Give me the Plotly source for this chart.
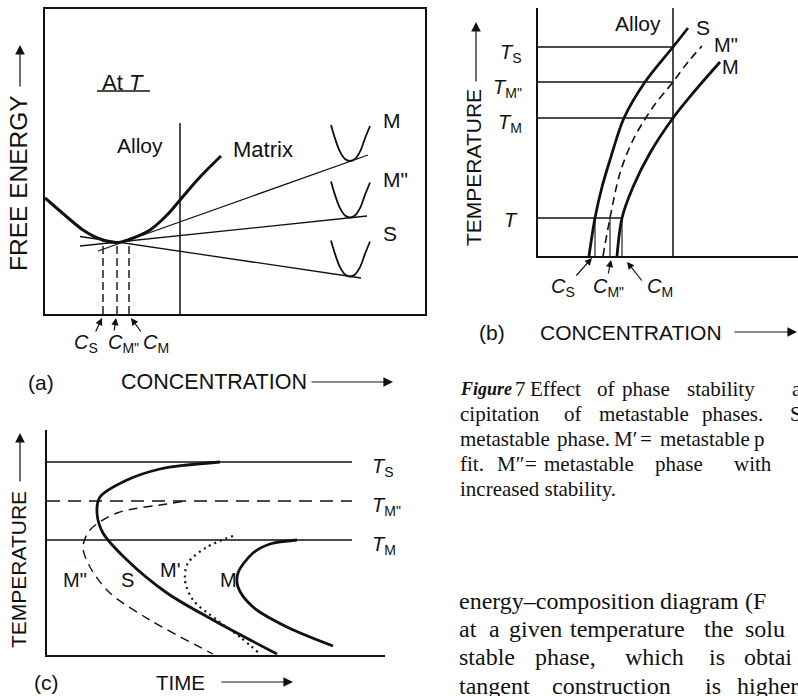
import plotly.graph_objects as go

W, H = 798, 696
INK = "#111111"
SANS = "Liberation Sans"
SERIF = "Liberation Serif"

# ---------------- Panel (a): free energy vs concentration at T ----------------
a_matrix_C = [0.0, 2.2, 3.8, 5.5, 7.2, 8.4, 10.5, 12.2, 13.5, 15.5, 17.6]
a_matrix_G = [11.6, 9.7, 8.4, 7.5, 7.15, 7.45, 8.4, 9.9, 11.4, 13.7, 15.8]
a_tanS_C = [3.5, 31.6]
a_tanS_G = [7.75, 3.6]
a_tanM2_C = [3.5, 32.2]
a_tanM2_G = [6.8, 9.8]
a_tanM_C = [5.3, 32.3]
a_tanM_G = [6.3, 15.9]
a_well_names = ["M", 'M"', "S"]
a_well_min_C = [30.5, 30.5, 30.5]
a_well_min_G = [15.3, 9.65, 3.75]
a_well_dC = [-1.9, -1.5, -1.0, -0.5, 0.0, 0.5, 1.0, 1.5, 2.0]
a_well_dG = [3.6, 2.26, 0.93, 0.2, 0.0, 0.2, 0.93, 2.26, 3.5]
a_alloy_C = 13.5
a_alloy_top_G = 19.1
a_conc_names = ["S", 'M"', "M"]
a_conc_C = [5.8, 7.2, 8.4]
a_conc_G = [7.41, 7.19, 7.4]

# ---------------- Panel (b): solvus temperature vs concentration ----------------
b_S_C = [5.1, 5.7, 6.4, 7.2, 8.6, 10.7, 13.5, 15.0]
b_S_T = [0.0, 3.8, 6.9, 9.6, 13.8, 17.4, 20.9, 22.8]
b_M2_C = [6.5, 7.2, 8.2, 9.5, 11.5, 13.5, 15.0, 16.4]
b_M2_T = [0.0, 3.8, 8.3, 11.6, 14.9, 17.4, 19.4, 21.0]
b_M_C = [7.9, 8.4, 9.5, 11.2, 13.5, 15.5, 18.2]
b_M_T = [0.0, 3.8, 6.9, 10.3, 13.8, 16.3, 19.4]
b_alloy_C = 13.5
b_alloy_top_T = 24.8
b_T_names = ["S", 'M"', "M"]
b_T_levels = [20.9, 17.4, 13.8]
b_T_low = 3.8
b_conc_names = ["S", 'M"', "M"]
b_conc_C = [5.7, 7.2, 8.4]

# ---------------- Panel (c): TTT curves ----------------
c_S_t = [17.3, 14.0, 11.3, 8.0, 5.3, 5.0, 5.6, 8.0, 12.0, 16.6, 23.0]
c_S_T = [19.3, 19.0, 18.6, 17.5, 15.8, 14.2, 12.2, 9.5, 6.2, 3.5, 0.1]
c_M2_t = [13.5, 12.0, 7.0, 4.3, 3.6, 4.3, 6.3, 10.3, 16.6]
c_M2_T = [15.35, 15.1, 14.2, 12.5, 10.8, 8.8, 6.2, 3.5, 0.1]
c_Mp_t = [18.6, 16.0, 14.1, 13.8, 14.6, 17.0, 19.3, 21.3]
c_Mp_T = [11.9, 10.8, 9.2, 7.5, 5.5, 3.5, 1.8, 0.1]
c_M_t = [25.0, 22.3, 20.6, 19.1, 19.1, 20.6, 24.0, 28.6]
c_M_T = [11.5, 11.1, 10.2, 8.2, 6.8, 4.8, 2.8, 0.9]
c_T_names = ["S", 'M"', "M"]
c_T_levels = [19.3, 15.4, 11.5]
c_T_line_end = 30.5

# ---------------- caption / body text ----------------
caption_lines = [
    [(458, "<b><i>Figure</i></b>"), (513, "7"), (528, "Effect"), (595, "of"), (620, "phase"),
     (685, "stability"), (790, "a")],
    [(458, "cipitation"), (562, "of"), (597, "metastable"), (700, "phases."), (788, "S")],
    [(458, "metastable"), (555, "phase."), (612, "M′"), (638, "="), (658, "metastable"), (752, "p")],
    [(458, "fit."), (495, "M″"), (523, "="), (542, "metastable"), (653, "phase"), (732, "with")],
    [(458, "increased stability.")],
]
caption_y = [389, 414, 439, 464, 489]
body_lines = [
    [(457, "energy–composition"), (658, "diagram"), (743, "(F")],
    [(457, "at"), (487, "a"), (507, "given"), (568, "temperature"), (702, "the"), (743, "solu")],
    [(457, "stable"), (533, "phase,"), (623, "which"), (707, "is"), (742, "obtai")],
    [(457, "tangent"), (550, "construction"), (703, "is"), (735, "higher")],
]
body_y = [601, 629, 657, 686]

# panel boxes in pixels (left, top, right, bottom) and data ranges
BOX = {"": (45, 9, 425, 314), "2": (538, 8, 798, 256), "3": (47, 430, 385, 655)}
RNG = {"": (38, 30.5), "2": (26, 24.8), "3": (33.8, 22.5)}


def PX(x):
    return x / W


def PY(y):
    return 1 - y / H


def to_px(ax, u, v):
    l, t, r, b = BOX[ax]
    xr, yr = RNG[ax]
    return l + (r - l) * u / xr, b - (b - t) * v / yr


fig = go.Figure()


def line(x, y, ax, width, dash=None, shape="linear"):
    fig.add_trace(go.Scatter(
        x=x, y=y, xaxis="x" + ax, yaxis="y" + ax, mode="lines",
        line=dict(color=INK, width=width, dash=dash, shape=shape,
                  smoothing=0.9 if shape == "spline" else None),
        hoverinfo="skip", showlegend=False))


# panel (a)
line(a_matrix_C, a_matrix_G, "", 3.0, shape="spline")
line(a_tanS_C, a_tanS_G, "", 1.3)
line(a_tanM2_C, a_tanM2_G, "", 1.3)
line(a_tanM_C, a_tanM_G, "", 1.3)
for cm, gm in zip(a_well_min_C, a_well_min_G):
    line([cm + d for d in a_well_dC], [gm + d for d in a_well_dG], "", 1.8, shape="spline")
line([a_alloy_C, a_alloy_C], [0, a_alloy_top_G], "", 1.5)
for cc, gg in zip(a_conc_C, a_conc_G):
    line([cc, cc], [0, gg], "", 1.4, dash="8px,4px")

# panel (b)
line(b_S_C, b_S_T, "2", 2.8, shape="spline")
line(b_M2_C, b_M2_T, "2", 1.6, dash="8px,5px", shape="spline")
line(b_M_C, b_M_T, "2", 2.8, shape="spline")
line([b_alloy_C, b_alloy_C], [0, b_alloy_top_T], "2", 1.5)
for lev in b_T_levels:
    line([0, b_alloy_C], [lev, lev], "2", 1.3)
line([0, b_conc_C[-1]], [b_T_low, b_T_low], "2", 1.3)
for cc in b_conc_C:
    line([cc, cc], [0, b_T_low], "2", 1.1)

# panel (c)
line(c_S_t, c_S_T, "3", 2.8, shape="spline")
line(c_M2_t, c_M2_T, "3", 1.4, dash="9px,6px", shape="spline")
line(c_Mp_t, c_Mp_T, "3", 2.2, dash="2px,4px", shape="spline")
line(c_M_t, c_M_T, "3", 2.8, shape="spline")
for lev, nm in zip(c_T_levels, c_T_names):
    line([0, c_T_line_end], [lev, lev], "3", 1.5 if nm != 'M"' else 1.4,
         dash=None if nm != 'M"' else "13px,8px")

ann = []


def text_px(x, y, s, size=20, family=SANS, angle=0, xanchor="center"):
    ann.append(dict(x=PX(x), y=PY(y), xref="paper", yref="paper", text=s, showarrow=False,
                    textangle=angle, xanchor=xanchor, yanchor="middle",
                    font=dict(family=family, size=size, color=INK)))


def text(ax, u, v, s, size=20, xanchor="center"):
    x, y = to_px(ax, u, v)
    text_px(x, y, s, size, xanchor=xanchor)


def arrow_px(hx, hy, tx, ty, size=1.3, width=1.2):
    ann.append(dict(x=PX(hx), y=PY(hy), ax=tx - hx, ay=ty - hy, xref="paper", yref="paper",
                    text="", showarrow=True, arrowhead=2, arrowsize=size, arrowwidth=width,
                    arrowcolor=INK))


def arrow(ax, hu, hv, tu, tv, size=1.2, width=1.2):
    hx, hy = to_px(ax, hu, hv)
    tx, ty = to_px(ax, tu, tv)
    arrow_px(hx, hy, tx, ty, size, width)


# panel (a) labels
text("", 7.8, 23.2, "At <i>T</i>", 22)
text("", 9.5, 16.9, "Alloy", 21)
text("", 21.8, 16.4, "Matrix", 22)
for nm, gm, dy in zip(a_well_names, a_well_min_G, [4.1, 3.75, 4.35]):
    text("", 33.6, gm + dy, nm, 21, xanchor="left")
a_lab_C = [4.1, 7.8, 11.1]
a_tail = [(5.0, -1.9), (6.9, -1.8), (9.7, -1.9)]
for nm, lx, cc, (tu, tv) in zip(a_conc_names, a_lab_C, a_conc_C, a_tail):
    text("", lx, -3.0, "<i>C</i><sub>%s</sub>" % nm, 20)
    arrow("", cc + (0.2 if cc > 8 else -0.1), -0.4, tu, tv)

# panel (b) labels
text("2", 10.0, 23.3, "Alloy", 21)
text("2", 15.6, 22.9, "S", 21, xanchor="left")
text("2", 17.4, 21.1, 'M"', 20, xanchor="left")
text("2", 18.2, 18.9, "M", 20, xanchor="left")
for nm, lev in zip(b_T_names, b_T_levels):
    text("2", -1.4, lev - 0.6, "<i>T</i><sub>%s</sub>" % nm, 20, xanchor="right")
text("2", -2.7, b_T_low - 0.2, "<i>T</i>", 20)
b_lab_C = [2.5, 7.0, 12.2]
b_tail = [(3.7, -2.1), (7.0, -1.9), (10.5, -2.6)]
b_head = [(5.4, -0.2), (7.3, -0.4), (8.9, -0.6)]
for nm, lx, (tu, tv), (hu, hv) in zip(b_conc_names, b_lab_C, b_tail, b_head):
    text("2", lx, -3.2, "<i>C</i><sub>%s</sub>" % nm, 20)
    arrow("2", hu, hv, tu, tv)

# panel (c) labels
text("3", 2.8, 7.5, 'M"', 20)
text("3", 8.0, 7.5, "S", 20)
text("3", 12.3, 8.5, "M'", 20)
text("3", 18.1, 7.5, "M", 20)
for nm, lev in zip(c_T_names, c_T_levels):
    text("3", 32.3, lev - 0.5, "<i>T</i><sub>%s</sub>" % nm, 20, xanchor="left")

# axis titles and panel letters
text_px(41, 382, "(a)", 21)
text_px(214, 382, "CONCENTRATION", 21.5)
arrow_px(393, 382, 310, 382, size=1.6)
text_px(18, 183, "FREE ENERGY", 24.5, angle=-90)
arrow_px(20, 45, 20, 88, size=1.6)

text_px(492, 332, "(b)", 21)
text_px(631, 332, "CONCENTRATION", 21)
arrow_px(797, 332, 733, 332, size=1.6)
text_px(473, 168, "TEMPERATURE", 21, angle=-90)
arrow_px(476, 22, 476, 83, size=1.6)

text_px(46, 682, "(c)", 21)
text_px(180, 682, "TIME", 20.5)
arrow_px(293, 682, 220, 682, size=1.6)
text_px(18, 570, "TEMPERATURE", 21, angle=-90)
arrow_px(20, 433, 20, 483, size=1.6)

for y, words in zip(caption_y, caption_lines):
    for x, w in words:
        sz = 18 if "Figure" in w else 21
        text_px(x, y, w, sz, family=SERIF, xanchor="left")
for y, words in zip(body_y, body_lines):
    for x, w in words:
        text_px(x, y, w, 24, family=SERIF, xanchor="left")

ax_common = dict(showticklabels=False, showgrid=False, zeroline=False, ticks="",
                 showline=True, linecolor=INK, linewidth=2, fixedrange=True)


def dom(ax):
    l, t, r, b = BOX[ax]
    return [PX(l), PX(r)], [PY(b), PY(t)]


fig.update_layout(
    width=W, height=H, autosize=False,
    margin=dict(l=0, r=0, t=0, b=0),
    paper_bgcolor="white", plot_bgcolor="white",
    showlegend=False,
    annotations=ann,
    shapes=[dict(type="line", xref="x", yref="y", x0=5.2, x1=10.5, y0=22.3, y1=22.3,
                 line=dict(color=INK, width=1.6))],
    xaxis=dict(domain=dom("")[0], range=[0, RNG[""][0]], anchor="y", mirror=True, **ax_common),
    yaxis=dict(domain=dom("")[1], range=[0, RNG[""][1]], anchor="x", mirror=True, **ax_common),
    xaxis2=dict(domain=dom("2")[0], range=[0, RNG["2"][0]], anchor="y2", **ax_common),
    yaxis2=dict(domain=dom("2")[1], range=[0, RNG["2"][1]], anchor="x2", **ax_common),
    xaxis3=dict(domain=dom("3")[0], range=[0, RNG["3"][0]], anchor="y3", **ax_common),
    yaxis3=dict(domain=dom("3")[1], range=[0, RNG["3"][1]], anchor="x3", **ax_common),
)

fig.write_html("out.html")
